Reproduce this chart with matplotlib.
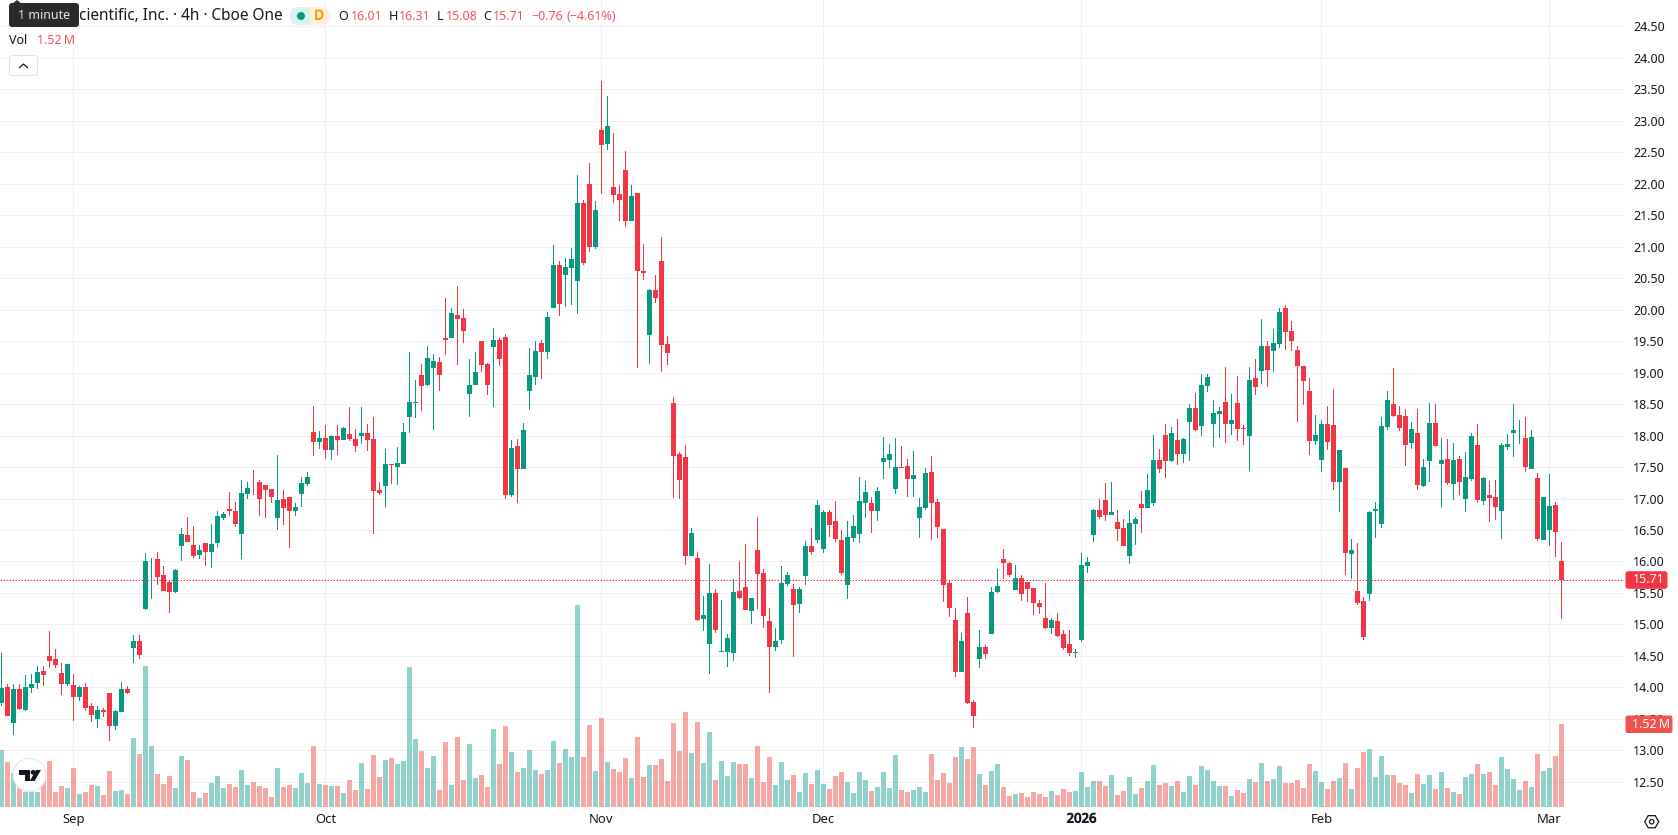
import matplotlib
matplotlib.use("Agg")
import matplotlib.pyplot as plt
import matplotlib.patheffects as pe
from matplotlib.patches import Circle, FancyBboxPatch, Polygon, Rectangle, RegularPolygon

plt.rcParams["font.family"] = ["Noto Sans", "DejaVu Sans"]

# 4h candles, oldest first
opens = [
    13.76, 14.01, 13.44, 13.98, 13.64, 13.99, 14.07, 14.26, 14.50, 14.45,
    14.23, 14.06, 14.04, 13.85, 14.01, 13.71, 13.50, 13.64, 13.91, 13.39,
    13.61, 13.98, 14.63, 14.74, 15.25, 16.00, 16.04, 15.79, 15.67, 15.52,
    16.25, 16.42, 16.26, 16.10, 16.29, 16.15, 16.29, 16.69, 16.83, 16.80,
    16.44, 17.07, 17.28, 17.26, 17.21, 17.15, 16.69, 16.99, 17.02, 16.80,
    17.07, 17.23, 18.06, 17.90, 17.96, 17.77, 17.99, 17.93, 18.02, 17.94,
    17.99, 18.04, 17.94, 17.13, 17.20, 17.55, 17.50, 17.55, 18.29, 18.52,
    18.96, 18.80, 19.07, 19.17, 19.55, 19.55, 19.91, 19.86, 18.66, 18.80,
    19.50, 19.13, 19.40, 19.52, 19.56, 17.06, 17.83, 17.47, 18.71, 18.93,
    19.47, 19.33, 20.02, 20.71, 20.55, 20.66, 20.45, 21.69, 21.99, 20.99,
    22.85, 22.63, 21.94, 21.83, 22.21, 21.40, 21.85, 20.61, 19.59, 20.31,
    20.77, 19.45, 18.52, 17.71, 17.66, 16.09, 16.06, 15.09, 14.69, 15.50,
    14.56, 14.56, 14.55, 15.53, 15.59, 15.21, 16.18, 15.82, 15.05, 14.64,
    14.75, 15.64, 15.56, 15.32, 15.77, 16.25, 16.34, 16.20, 16.79, 16.64,
    16.34, 15.63, 16.37, 16.44, 16.93, 16.93, 16.80, 17.58, 17.61, 17.15,
    17.50, 17.52, 17.31, 16.69, 16.85, 17.42, 16.94, 16.52, 15.66, 15.07,
    14.25, 15.18, 13.77, 14.45, 14.64, 14.85, 15.52, 16.04, 15.98, 15.55,
    15.74, 15.67, 15.58, 15.34, 15.10, 14.94, 15.05, 14.85, 14.69, 14.55,
    14.75, 15.93, 16.42, 16.82, 16.98, 16.74, 16.63, 16.53, 16.09, 16.60,
    16.91, 16.85, 16.93, 17.61, 18.01, 17.60, 17.93, 17.71, 18.21, 18.44,
    18.15, 18.79, 18.18, 18.34, 18.53, 18.18, 18.51, 18.12, 17.99, 18.91,
    19.02, 19.42, 19.34, 19.45, 20.02, 19.66, 19.36, 19.10, 18.71, 17.91,
    17.61, 18.18, 18.17, 17.26, 17.48, 16.12, 15.53, 15.37, 15.48, 16.80,
    16.60, 18.14, 18.50, 18.33, 18.31, 17.88, 18.04, 17.20, 17.60, 18.20,
    17.55, 17.63, 17.23, 17.63, 16.99, 17.31, 17.85, 16.96, 17.06, 17.02,
    16.80, 17.82, 18.04, 18.08, 17.96, 17.47, 17.33, 16.34, 16.50, 16.90, 16.01,
]
highs = [
    14.54, 14.06, 14.06, 14.06, 14.20, 14.21, 14.34, 14.34, 14.90, 14.61,
    14.39, 14.37, 14.21, 14.02, 14.07, 13.75, 13.71, 13.67, 13.91, 13.64,
    14.09, 14.02, 14.83, 14.83, 16.13, 16.05, 16.15, 15.93, 15.71, 15.88,
    16.53, 16.71, 16.56, 16.26, 16.29, 16.60, 16.80, 16.79, 17.10, 16.94,
    17.29, 17.26, 17.45, 17.29, 17.21, 17.15, 17.69, 17.13, 17.02, 16.93,
    17.34, 17.42, 18.47, 18.07, 18.17, 18.01, 18.17, 18.13, 18.45, 18.10,
    18.45, 18.18, 18.29, 17.26, 17.79, 17.55, 17.82, 18.20, 19.33, 18.88,
    19.13, 19.42, 19.29, 19.25, 20.18, 20.02, 20.37, 20.01, 19.21, 19.33,
    19.50, 19.15, 19.71, 19.55, 19.61, 17.93, 17.94, 18.20, 19.39, 19.50,
    19.52, 19.96, 21.02, 20.77, 20.82, 20.98, 22.13, 21.74, 22.33, 21.72,
    23.63, 23.39, 22.80, 21.98, 22.52, 21.98, 21.85, 21.04, 20.33, 20.55,
    21.15, 19.58, 18.61, 17.74, 17.85, 16.53, 16.15, 15.45, 15.96, 15.56,
    15.39, 14.85, 15.72, 16.01, 16.28, 15.42, 16.71, 15.88, 15.26, 14.94,
    15.93, 15.83, 15.64, 15.59, 16.32, 16.53, 16.98, 16.82, 16.82, 16.96,
    16.50, 16.64, 16.74, 17.34, 17.28, 17.02, 17.18, 17.98, 17.86, 17.96,
    17.83, 17.63, 17.75, 17.01, 17.48, 17.67, 16.99, 16.52, 15.69, 15.26,
    14.87, 15.44, 13.80, 14.91, 14.67, 15.59, 15.88, 16.20, 15.99, 15.94,
    15.79, 15.67, 15.58, 15.39, 15.66, 15.10, 15.18, 14.91, 14.91, 14.61,
    16.13, 16.07, 16.83, 17.00, 17.25, 17.26, 16.82, 16.67, 16.82, 16.71,
    17.12, 17.39, 18.01, 17.79, 18.18, 18.13, 18.26, 17.96, 18.50, 18.67,
    18.98, 18.98, 18.56, 18.45, 19.09, 18.66, 18.94, 18.17, 19.09, 19.21,
    19.85, 19.50, 19.69, 20.02, 20.07, 19.82, 19.42, 19.10, 18.91, 18.33,
    18.25, 18.47, 18.74, 17.77, 17.48, 16.36, 16.29, 15.44, 16.80, 16.94,
    18.29, 18.71, 19.07, 18.47, 18.42, 18.21, 18.42, 17.63, 18.52, 18.50,
    17.96, 17.95, 17.88, 17.67, 17.74, 18.04, 18.18, 17.34, 17.28, 17.29,
    17.88, 18.02, 18.50, 18.25, 18.29, 18.09, 17.40, 17.02, 17.39, 16.94, 16.31,
]
lows = [
    13.70, 13.54, 13.25, 13.64, 13.63, 13.91, 13.98, 14.02, 14.31, 14.31,
    13.88, 14.02, 13.47, 13.79, 13.63, 13.45, 13.36, 13.53, 13.15, 13.33,
    13.61, 13.90, 14.39, 14.45, 15.23, 15.40, 15.63, 15.53, 15.18, 15.50,
    16.01, 16.31, 16.06, 16.04, 15.93, 15.90, 16.23, 16.66, 16.72, 16.55,
    16.04, 16.99, 17.06, 16.72, 16.69, 16.93, 16.50, 16.58, 16.21, 16.72,
    16.86, 17.20, 17.67, 17.79, 17.63, 17.61, 17.69, 17.93, 17.91, 17.74,
    17.86, 17.75, 16.44, 17.06, 16.86, 17.23, 17.21, 17.55, 18.04, 18.28,
    18.39, 18.79, 18.09, 18.71, 19.28, 19.55, 19.12, 19.47, 18.29, 18.80,
    19.01, 18.64, 18.45, 19.10, 16.99, 17.02, 16.93, 17.47, 18.40, 18.80,
    18.90, 19.21, 20.02, 19.90, 20.04, 20.07, 19.93, 20.71, 20.91, 20.96,
    21.83, 22.53, 21.69, 21.40, 21.31, 21.40, 19.07, 20.47, 19.13, 20.10,
    19.01, 19.12, 17.01, 16.99, 15.95, 16.09, 15.06, 14.90, 14.21, 14.86,
    14.56, 14.32, 14.42, 15.40, 15.23, 15.01, 15.25, 14.94, 13.91, 14.58,
    14.69, 15.61, 14.48, 15.18, 15.63, 16.10, 16.29, 16.13, 16.39, 16.31,
    15.79, 15.40, 16.31, 16.29, 16.69, 16.45, 16.64, 17.31, 17.48, 17.07,
    17.48, 17.02, 17.02, 16.37, 16.82, 16.34, 16.37, 15.36, 15.12, 14.17,
    14.25, 13.74, 13.36, 14.31, 14.45, 14.85, 15.50, 15.72, 15.75, 15.55,
    15.37, 15.36, 15.15, 15.17, 14.93, 14.85, 14.80, 14.59, 14.50, 14.47,
    14.72, 15.82, 16.31, 16.67, 16.64, 16.74, 16.33, 16.25, 15.96, 16.26,
    16.45, 16.85, 16.88, 17.40, 17.33, 17.58, 17.53, 17.56, 17.60, 18.07,
    17.99, 18.69, 17.82, 17.96, 17.88, 18.01, 17.91, 17.85, 17.44, 18.64,
    18.82, 18.77, 19.01, 19.39, 19.36, 19.34, 18.21, 18.48, 17.69, 17.85,
    17.42, 17.77, 17.13, 16.79, 15.79, 15.72, 15.31, 14.75, 15.37, 16.37,
    16.53, 18.09, 18.29, 18.07, 17.52, 17.79, 17.13, 17.18, 17.26, 17.83,
    16.87, 17.21, 16.98, 17.06, 16.79, 17.28, 16.93, 16.90, 16.63, 16.66,
    16.36, 17.77, 17.66, 17.87, 17.42, 17.47, 16.33, 16.34, 16.25, 16.07, 15.08,
]
closes = [
    13.99, 13.54, 13.98, 13.66, 14.01, 14.06, 14.25, 14.20, 14.42, 14.36,
    14.06, 14.37, 13.85, 14.01, 13.67, 13.56, 13.64, 13.61, 13.39, 13.63,
    13.98, 13.91, 14.74, 14.51, 16.01, 16.01, 15.75, 15.53, 15.52, 15.86,
    16.44, 16.31, 16.09, 16.18, 16.15, 16.28, 16.72, 16.75, 16.80, 16.60,
    17.09, 17.17, 17.27, 16.99, 17.13, 17.02, 16.98, 16.85, 16.80, 16.86,
    17.25, 17.34, 17.90, 17.96, 17.77, 17.99, 17.93, 18.12, 17.94, 17.83,
    18.04, 17.93, 17.12, 17.09, 17.55, 17.53, 17.56, 18.06, 18.53, 18.53,
    18.79, 19.23, 19.18, 18.96, 19.52, 19.94, 19.85, 19.66, 18.80, 19.01,
    19.12, 18.80, 19.52, 19.21, 17.06, 17.80, 17.47, 18.09, 18.96, 19.34,
    19.33, 19.88, 20.71, 20.09, 20.67, 20.80, 21.69, 20.74, 20.99, 21.58,
    22.61, 22.91, 21.82, 21.74, 21.40, 21.80, 20.61, 20.58, 20.31, 20.18,
    19.44, 19.31, 17.67, 17.29, 16.09, 16.45, 15.07, 15.15, 15.50, 14.91,
    14.58, 14.79, 15.52, 15.42, 15.23, 15.42, 15.80, 15.13, 14.64, 14.74,
    15.66, 15.79, 15.31, 15.56, 16.25, 16.15, 16.90, 16.79, 16.58, 16.36,
    15.82, 16.39, 16.56, 16.96, 17.10, 16.80, 17.12, 17.64, 17.71, 17.50,
    17.48, 17.31, 17.37, 16.86, 17.40, 16.93, 16.55, 15.63, 15.26, 14.25,
    14.74, 13.75, 13.55, 14.64, 14.53, 15.52, 15.61, 15.98, 15.79, 15.74,
    15.48, 15.56, 15.34, 15.28, 14.94, 15.07, 14.82, 14.63, 14.55, 14.56,
    15.94, 15.99, 16.82, 16.71, 16.74, 16.79, 16.52, 16.25, 16.61, 16.67,
    16.85, 17.14, 17.61, 17.47, 17.60, 18.04, 17.71, 17.94, 18.44, 18.09,
    18.80, 18.93, 18.36, 18.39, 18.18, 18.25, 18.10, 18.10, 18.88, 18.77,
    19.42, 19.04, 19.47, 19.96, 19.64, 19.50, 19.10, 18.87, 17.91, 18.01,
    18.18, 17.90, 17.26, 17.77, 16.13, 16.18, 15.34, 14.80, 16.79, 16.83,
    18.15, 18.56, 18.31, 18.12, 17.85, 18.10, 17.21, 17.50, 18.20, 17.83,
    17.61, 17.25, 17.61, 17.26, 17.34, 17.99, 16.98, 17.33, 17.01, 16.87,
    17.85, 17.87, 18.09, 18.09, 17.50, 17.98, 16.36, 17.02, 16.88, 16.47, 15.71,
]
# volume per candle, in millions
volumes = [
    1.04, .82, .62, .35, .27, .27, .27, .49, .84, .27,
    .38, .35, .71, .24, .27, .40, .38, .22, .66, .29,
    .31, .24, 1.26, .97, 2.58, 1.12, .60, .42, .57, .35,
    .93, .86, .27, .16, .26, .44, .57, .35, .42, .37,
    .68, .40, .46, .38, .35, .18, .71, .37, .40, .35,
    .62, .44, 1.12, .42, .40, .38, .38, .26, .49, .31,
    .81, .33, .95, .55, .86, .90, .79, .84, 2.56, 1.25,
    1.03, .71, .93, .31, 1.19, .40, 1.28, .49, 1.15, .53,
    .59, .37, 1.43, .79, 1.48, 1.01, .64, .71, 1.04, .68,
    .60, .68, 1.21, .81, 1.06, .92, 3.70, .92, 1.50, .66,
    1.63, .82, .70, .64, .90, .53, 1.28, .55, .77, .77,
    .88, .48, 1.54, 1.03, 1.74, .99, 1.56, .81, 1.37, .49,
    .84, .57, .82, .79, .79, .53, 1.12, .46, .92, .40,
    .82, .49, .59, .27, .62, .42, .68, .42, .33, .57,
    .64, .46, .26, .64, .49, .29, .37, .64, .35, .95,
    .31, .27, .31, .37, .27, .97, .49, .62, .44, .92,
    1.10, .88, 1.10, .60, .40, .66, .79, .37, .20, .24,
    .26, .18, .27, .24, .18, .29, .22, .33, .27, .29,
    .64, .37, .48, .48, .38, .59, .22, .29, .55, .24,
    .35, .48, .77, .40, .44, .38, .48, .27, .57, .40,
    .75, .68, .48, .38, .38, .20, .31, .26, .51, .46,
    .81, .48, .51, .75, .44, .44, .49, .35, .79, .66,
    .46, .33, .48, .53, .81, .33, .71, 1.01, 1.06, .55,
    .93, .59, .59, .44, .40, .26, .60, .42, .59, .33,
    .64, .35, .27, .24, .55, .60, .79, .60, .64, .40,
    .92, .70, .51, .31, .48, .37, .97, .66, .71, .93, 1.52,
]

# candle index of each month start on the time axis
month_pos = [12, 54, 100, 137, 180, 220, 258]
month_labels = ["Sep", "Oct", "Nov", "Dec", "2026", "Feb", "Mar"]
price_ticks = [12.5 + 0.5 * k for k in range(25)]

UP = "#089981"
DOWN = "#f23645"
VOL_UP = "#26a69a"
VOL_DOWN = "#ef5350"
GRID = "#f0f0f0"
TEXT = "#131722"
RED_TEXT = "#f7525f"
FS = 9.0

W, H = 1678, 835
PANE_W, PANE_H = 1624, 807
XLIM = (-0.25, 270.4167)
YLIM = (12.103, 24.913)
VOL_TOP = 14.78

fig = plt.figure(figsize=(W / 100, H / 100), dpi=100, facecolor="white")
rect = [0, (H - PANE_H) / H, PANE_W / W, PANE_H / H]

# bottom layer: grid and axis labels
ax = fig.add_axes(rect, zorder=0)
ax.set_xlim(*XLIM)
ax.set_ylim(*YLIM)
ax.yaxis.tick_right()
ax.set_yticks(price_ticks)
ax.set_yticklabels([f"{p:.2f}" for p in price_ticks])
ax.set_xticks(month_pos)
ax.set_xticklabels(month_labels)
ax.tick_params(axis="y", length=0, pad=6.5, labelsize=FS, labelcolor=TEXT)
ax.tick_params(axis="x", length=0, pad=4, labelsize=FS + 0.4, labelcolor=TEXT)
# year label is heavier than the months
ax.get_xticklabels()[4].set_path_effects(
    [pe.withStroke(linewidth=0.6, foreground=TEXT)])
ax.grid(True, color=GRID, linewidth=0.72)
ax.set_axisbelow(True)
for s in ax.spines.values():
    s.set_visible(False)

xs = list(range(len(closes)))
rising = [c >= o for o, c in zip(opens, closes)]

# volume pane sits under the candles
ax_vol = fig.add_axes(rect, zorder=1)
ax_vol.set_xlim(*XLIM)
ax_vol.set_ylim(0, VOL_TOP)
ax_vol.axis("off")
ax_vol.bar(xs, volumes, width=5 / 6, linewidth=0, alpha=0.5,
           color=[VOL_UP if r else VOL_DOWN for r in rising])

# candles
ax_c = fig.add_axes(rect, zorder=2)
ax_c.set_xlim(*XLIM)
ax_c.set_ylim(*YLIM)
ax_c.axis("off")
colors = [UP if r else DOWN for r in rising]
ax_c.bar(xs, [h - l for h, l in zip(highs, lows)], bottom=lows, width=1 / 6,
         linewidth=0, color=colors)
ax_c.bar(xs, [abs(c - o) for o, c in zip(opens, closes)],
         bottom=[min(o, c) for o, c in zip(opens, closes)], width=5 / 6,
         linewidth=0, color=colors)
ax_c.axhline(closes[-1], color=DOWN, linewidth=0.72, linestyle=(0, (1.5, 1.5)))

# overlay in pixel coordinates for the legend, badges and logo
ov = fig.add_axes([0, 0, 1, 1], zorder=3)
ov.set_xlim(0, W)
ov.set_ylim(H, 0)
ov.axis("off")


def label(x, y, s, color=TEXT, size=FS, **kw):
    return ov.text(x, y, s, color=color, fontsize=size, va="center", ha=kw.pop("ha", "left"), **kw)


fig.canvas.draw()
price_y = H - ax_c.transData.transform((0, closes[-1]))[1]
vol_y = H - ax_vol.transData.transform((0, volumes[-1]))[1]

# last price and last volume tags on the scale
ov.add_patch(FancyBboxPatch((1626, price_y - 8), 41, 16.5, boxstyle="round,pad=0,rounding_size=2",
                            facecolor=DOWN, edgecolor=DOWN, linewidth=0.7))
label(1633, price_y, f"{closes[-1]:.2f}", color="white")
ov.add_patch(FancyBboxPatch((1626, vol_y - 8), 46, 16.5, boxstyle="round,pad=0,rounding_size=2",
                            facecolor=VOL_DOWN, edgecolor=VOL_DOWN, linewidth=0.7))
label(1632.5, vol_y, f"{volumes[-1]:.2f}\u2009M", color="white")

# legend row
label(79, 15.5, "cientific, Inc. · 4h · Cboe One", size=11.05)
ov.add_patch(FancyBboxPatch((290, 7), 40, 18, boxstyle="round,pad=0,rounding_size=9",
                            facecolor="#fff0de", linewidth=0))
left_half = FancyBboxPatch((290, 7), 40, 18, boxstyle="round,pad=0,rounding_size=9",
                           facecolor="#ddf2ef", linewidth=0)
ov.add_patch(left_half)
left_half.set_clip_path(Rectangle((290, 7), 20, 18, transform=ov.transData))
ov.add_patch(Circle((301, 16), 4, facecolor=UP, linewidth=0))
badge = label(319, 16, "D", color="#ff9800", ha="center", size=9.6)
badge.set_path_effects([pe.withStroke(linewidth=0.6, foreground="#ff9800")])

label(338, 16.5, "O")
label(351, 16.5, f"{opens[-1]:.2f}", color=RED_TEXT)
label(388.5, 16.5, "H")
label(399, 16.5, f"{highs[-1]:.2f}", color=RED_TEXT)
label(437, 16.5, "L")
label(445.5, 16.5, f"{lows[-1]:.2f}", color=RED_TEXT)
label(483, 16.5, "C")
label(493, 16.5, f"{closes[-1]:.2f}", color=RED_TEXT)
label(531.5, 16.5, "−0.76", color=RED_TEXT)
label(566.5, 16.5, "(−4.61%)", color=RED_TEXT)

label(9, 40.5, "Vol")
label(37, 40.5, f"{volumes[-1]:.2f}\u2009M", color=RED_TEXT)

# collapse button
ov.add_patch(FancyBboxPatch((9.5, 55.5), 28, 20, boxstyle="round,pad=0,rounding_size=3",
                            facecolor="white", edgecolor="#e0e3eb", linewidth=0.8))
ov.plot([19.5, 23.5, 27.5], [67.5, 64, 67.5], color=TEXT, linewidth=0.9)

# tooltip
ov.add_patch(Polygon([[12, 4], [17, 0], [22, 4]], facecolor="#2a2a2a", linewidth=0))
ov.add_patch(FancyBboxPatch((9, 3), 70, 24, boxstyle="round,pad=0,rounding_size=3",
                            facecolor="#2a2a2a", linewidth=0))
label(44, 15.5, "1 minute", color="#e8e8e8", ha="center", size=9.0)

# logo badge
ov.add_patch(Circle((29.5, 775), 16.5, facecolor="white", edgecolor="#e8e8e8", linewidth=0.9))
ov.add_patch(Polygon([[19, 770], [29.5, 770], [29.5, 781], [24.5, 781], [24.5, 775], [19, 775]],
                     facecolor="#131722", linewidth=0))
ov.add_patch(Circle((33, 772.3), 2.4, facecolor="#131722", linewidth=0))
ov.add_patch(Polygon([[36, 770], [41, 770], [34.5, 781], [29.8, 781]], facecolor="#131722", linewidth=0))

# settings gear
ov.add_patch(RegularPolygon((1651.7, 821.7), 6, radius=7, orientation=3.14159 / 6,
                            facecolor="none", edgecolor=TEXT, linewidth=0.9))
ov.add_patch(Circle((1651.7, 821.7), 2.2, facecolor="none", edgecolor=TEXT, linewidth=0.9))

fig.savefig("out.png", dpi=100)
